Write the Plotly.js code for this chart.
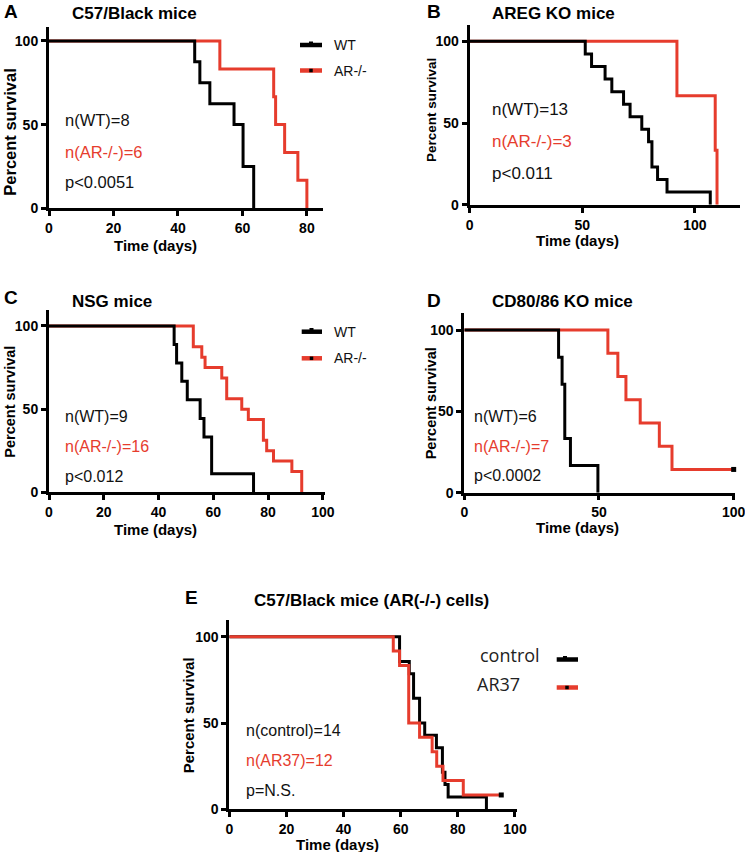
<!DOCTYPE html>
<html><head><meta charset="utf-8">
<script src="https://cdn.plot.ly/plotly-3.0.1.min.js"></script>
<style>html,body{margin:0;padding:0;background:#fff}#chart{width:745px;height:852px}</style>
</head><body><div id="chart"></div>
<script>
// ---- data (time in days, percent survival) ----
const aWT_t = [0, 45.2, 46.8, 49.9, 57.4, 60.2, 63.5];
const aWT_s = [100, 87.5, 75, 62.5, 50, 25, 0];
const aAR_t = [0, 53, 69.7, 70.3, 73.1, 77.2, 80];
const aAR_s = [100, 83.3, 66.7, 50, 33.3, 16.7, 0];

const bWT_t = [0, 51.3, 54.1, 60.1, 63.1, 68.3, 71.2, 76.4, 79.4, 80.9, 83.4, 87.6, 106.8];
const bWT_s = [100, 92.3, 84.6, 76.9, 69.2, 61.5, 53.8, 46.2, 38.5, 23.1, 15.4, 7.7, 0];
const bAR_t = [0, 92, 109, 109.8];
const bAR_s = [100, 66.7, 33.3, 0];

const cWT_t = [0, 45.7, 46.6, 48.5, 50.5, 55.2, 56.6, 59.4, 74.7];
const cWT_s = [100, 88.9, 77.8, 66.7, 55.6, 44.4, 33.3, 11.1, 0];
const cAR_t = [0, 52.7, 55.8, 57, 63.1, 64.9, 70.4, 72.8, 78.3, 79.5, 82, 88.7, 92.3];
const cAR_s = [100, 87.5, 81.25, 75, 68.75, 56.25, 50, 43.75, 31.25, 25, 18.75, 12.5, 0];

const dWT_t = [0, 35, 36.3, 37.3, 39.4, 49.6];
const dWT_s = [100, 83.3, 66.7, 33.3, 16.7, 0];
const dAR_t = [0, 53.3, 57, 60, 65.3, 72.4, 77.1, 100];
const dAR_s = [100, 85.7, 71.4, 57.1, 42.9, 28.6, 14.3, 14.3];
const dAR_censor = [[100], [14.3]];

const eCtl_t = [0, 59.6, 63, 64.5, 66.6, 68.4, 72.5, 74.6, 75.5, 76.6, 90];
const eCtl_s = [100, 85.7, 78.6, 64.3, 50, 42.9, 35.7, 21.4, 14.3, 7.1, 0];
const eAR_t = [0, 57.4, 59.6, 62.8, 66.6, 71, 72.6, 74.8, 81.9, 95.2];
const eAR_s = [100, 91.7, 83.3, 50, 41.7, 33.3, 25, 16.7, 8.3, 8.3];
const eAR_censor = [[95.2], [8.3]];

const panelTitles = ["C57/Black mice", "AREG KO mice", "NSG mice", "CD80/86 KO mice", "C57/Black mice (AR(-/-) cells)"];
const panelLetters = ["A", "B", "C", "D", "E"];
const nTexts = [
  ["n(WT)=8", "n(AR-/-)=6", "p<0.0051"],
  ["n(WT)=13", "n(AR-/-)=3", "p<0.011"],
  ["n(WT)=9", "n(AR-/-)=16", "p<0.012"],
  ["n(WT)=6", "n(AR-/-)=7", "p<0.0002"],
  ["n(control)=14", "n(AR37)=12", "p=N.S."]
];
const xTicksA = [0, 20, 40, 60, 80];
const xTicksB = [0, 50, 100];
const xTicksC = [0, 20, 40, 60, 80, 100];
const xTicksD = [0, 50, 100];
const xTicksE = [0, 20, 40, 60, 80, 100];
const yTicks = [0, 50, 100];

// ---- styling / layout ----
const W = 745, H = 852;
const RED = '#e63c2d', BLACK = '#000';
const FONT = 'Liberation Sans, Arial, sans-serif';
const px = v => v / W;
const py = v => 1 - v / H;

function step(x, y, xa, ya, color) {
  return {x: x, y: y, xaxis: xa, yaxis: ya, type: 'scatter', mode: 'lines',
    line: {shape: 'hv', color: color, width: 3}, showlegend: false, hoverinfo: 'skip'};
}
function censor(c, xa, ya) {
  return {x: c[0], y: c[1], xaxis: xa, yaxis: ya, type: 'scatter', mode: 'markers',
    marker: {symbol: 'square', size: 5, color: '#000'}, showlegend: false, hoverinfo: 'skip', cliponaxis: false};
}

const traces = [
  step(aAR_t, aAR_s, 'x', 'y', RED), step(aWT_t, aWT_s, 'x', 'y', BLACK),
  step(bAR_t, bAR_s, 'x2', 'y2', RED), step(bWT_t, bWT_s, 'x2', 'y2', BLACK),
  step(cAR_t, cAR_s, 'x3', 'y3', RED), step(cWT_t, cWT_s, 'x3', 'y3', BLACK),
  step(dAR_t, dAR_s, 'x4', 'y4', RED), step(dWT_t, dWT_s, 'x4', 'y4', BLACK),
  censor(dAR_censor, 'x4', 'y4'),
  step(eCtl_t, eCtl_s, 'x5', 'y5', BLACK), step(eAR_t, eAR_s, 'x5', 'y5', RED),
  censor(eAR_censor, 'x5', 'y5')
];

function xax(d0, d1, r1, ticks, anchor, tl) {
  return {domain: [px(d0), px(d1)], range: [0, r1], anchor: anchor, tickmode: 'array', tickvals: ticks,
    showline: true, linewidth: 3, linecolor: '#000', ticks: 'outside', ticklen: tl || 5, tickwidth: 3, tickcolor: '#000',
    showgrid: false, zeroline: false, fixedrange: true, ticklabeloverflow: 'allow',
    tickfont: {family: FONT, size: 14, color: '#000', weight: 'bold'}};
}
function yax(top, bot, r1, anchor) {
  return {domain: [py(bot), py(top)], range: [0, r1], anchor: anchor, tickmode: 'array', tickvals: yTicks,
    showline: true, linewidth: 3, linecolor: '#000', ticks: 'outside', ticklen: 5, tickwidth: 3, tickcolor: '#000',
    showgrid: false, zeroline: false, fixedrange: true, ticklabeloverflow: 'allow',
    tickfont: {family: FONT, size: 14, color: '#000', weight: 'bold'}};
}

const layout = {
  width: W, height: H, margin: {l: 0, r: 0, t: 0, b: 0}, paper_bgcolor: '#fff', plot_bgcolor: 'rgba(0,0,0,0)',
  showlegend: false,
  xaxis: xax(49, 323, 85, xTicksA, 'y'), yaxis: yax(26.7, 208.3, 108.5, 'x'),
  xaxis2: xax(469.7, 740, 120, xTicksB, 'y2'), yaxis2: yax(25, 204.7, 110, 'x2'),
  xaxis3: xax(49, 325, 100.8, xTicksC, 'y3'), yaxis3: yax(310, 492.3, 109.6, 'x3'),
  xaxis4: xax(464.3, 735.3, 100.6, xTicksD, 'y4', 4), yaxis4: yax(313.3, 492.7, 110.3, 'x4'),
  xaxis5: xax(229.3, 516.7, 100.6, xTicksE, 'y5'), yaxis5: yax(620, 809.3, 109.7, 'x5'),
  annotations: [], shapes: []
};

function txt(s, x, y, size, color, opts) {
  opts = opts || {};
  layout.annotations.push(Object.assign({text: s, x: px(x), y: py(y), xref: 'paper', yref: 'paper',
    xanchor: 'left', yanchor: 'middle', showarrow: false,
    font: {family: FONT, size: size, color: color}}, opts));
}

// panel letters & titles
const letterPos = [[2, 11], [425, 11], [2, 297], [425.3, 300], [183.3, 597]];
const titlePos = [[70, 13], [490.3, 13], [70, 301.7], [490.3, 301.7], [251.7, 600.7]];
panelLetters.forEach((l, i) => txt('<b>' + l + '</b>', letterPos[i][0], letterPos[i][1], 19, '#000'));
panelTitles.forEach((t, i) => txt('<b>' + t + '</b>', titlePos[i][0], titlePos[i][1], 17, '#000'));

// axis titles
const xTitlePos = [[155.8, 245.5], [577, 240.5], [155.8, 529], [577, 527], [337.5, 844]];
const yTitlePos = [[10, 131.7, 16.5], [432, 110, 13.5], [10, 401.7, 14.5], [431, 403.3, 14.5], [188.3, 715, 15]];
xTitlePos.forEach(p => txt('<b>Time (days)</b>', p[0], p[1], 15, '#000', {xanchor: 'center'}));
yTitlePos.forEach(p => txt('<b>Percent survival</b>', p[0], p[1], p[2], '#000', {xanchor: 'center', textangle: -90}));

// n / p annotations
const nPos = [
  [63.3, [120, 151.7, 181.7], 16.5],
  [490.3, [110, 141.7, 173.3], 17],
  [63.3, [416.7, 446.7, 476.7], 16],
  [472, [416.7, 446.7, 475], 16],
  [244, [730, 760, 790], 16]
];
nTexts.forEach((arr, i) => {
  arr.forEach((s, j) => txt(s, nPos[i][0], nPos[i][1][j], nPos[i][2], j === 1 ? RED : '#111'));
});

// legends
function legLine(x0, x1, y, color, w) {
  layout.shapes.push({type: 'line', xref: 'paper', yref: 'paper', x0: px(x0), x1: px(x1), y0: py(y), y1: py(y),
    line: {color: color, width: w}});
}
function legSq(x, y, s) {
  layout.shapes.push({type: 'rect', xref: 'paper', yref: 'paper', x0: px(x - s / 2), x1: px(x + s / 2),
    y0: py(y + s / 2), y1: py(y - s / 2), fillcolor: '#000', line: {width: 0}});
}
// A
legLine(300, 322, 45, BLACK, 4.5); legSq(311, 43.5, 4);
legLine(300, 322, 70.5, RED, 4.5); legSq(311, 70.5, 3.5);
txt('WT', 331.7, 45, 14, '#111'); txt('AR-/-', 331.7, 70.5, 14, '#111');
// C
legLine(301.7, 322, 331.7, BLACK, 4.5); legSq(311.5, 330, 4);
legLine(301.7, 322, 358.3, RED, 4.5); legSq(311.5, 358.3, 3.5);
txt('WT', 331.7, 331.7, 14, '#111'); txt('AR-/-', 331.7, 358.3, 14, '#111');
// E
legLine(556.7, 578, 659.5, BLACK, 4.5); legSq(565, 658, 4);
legLine(556.7, 578, 687.5, RED, 4.5); legSq(567, 687.5, 3.5);
txt('control', 478.3, 655, 18, '#222', {font: {family: 'Open Sans, sans-serif', size: 18, color: '#222'}});
txt('AR37', 475, 684, 18, '#222', {font: {family: 'Open Sans, sans-serif', size: 18, color: '#222'}});

Plotly.newPlot('chart', traces, layout, {staticPlot: true, displayModeBar: false});
</script></body></html>
